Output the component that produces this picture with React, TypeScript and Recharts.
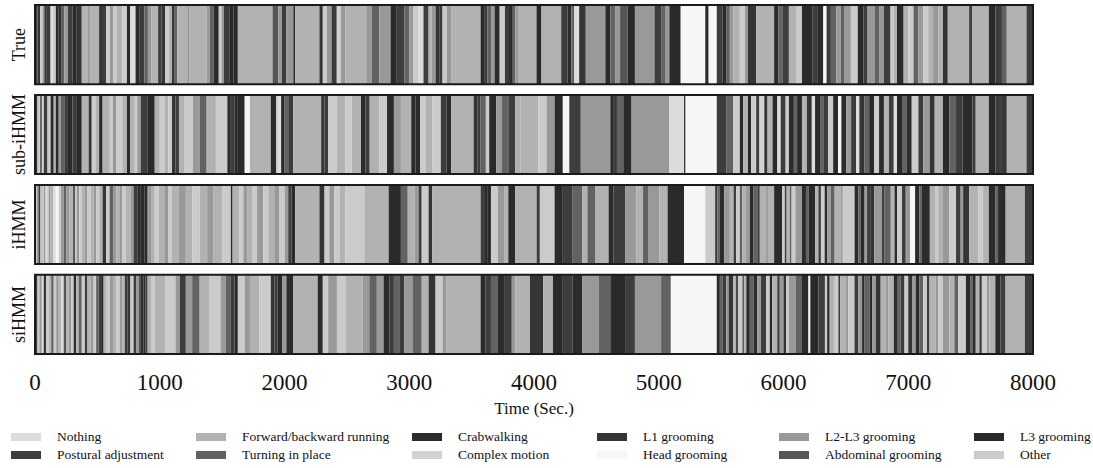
import { ComposedChart, XAxis, YAxis, ReferenceArea } from "recharts";

const STATE_LABELS = [
  "Nothing",
  "Forward/backward running",
  "Crabwalking",
  "L1 grooming",
  "L2-L3 grooming",
  "L3 grooming",
  "Postural adjustment",
  "Turning in place",
  "Complex motion",
  "Head grooming",
  "Abdominal grooming",
  "Other",
];

const STATE_COLORS = [
  "#dcdcdc", "#b2b2b2", "#2b2b2b", "#353535", "#999999", "#2a2a2a",
  "#3d3d3d", "#626262", "#d2d2d2", "#f6f6f6", "#565656", "#cbcbcb",
];

const ROW_LABELS = ["True", "sub-iHMM", "iHMM", "siHMM"];
const TIME_TICKS = [0, 1000, 2000, 3000, 4000, 5000, 6000, 7000, 8000];

// each entry: [segment end time (sec), state index]; a segment starts where the previous ended
const TRUE_SEGS: [number, number][] = [
  [20, 6], [42, 3], [60, 11], [75, 4], [95, 3], [125, 6], [145, 0], [167, 11],
  [190, 2], [208, 5], [235, 7], [264, 4], [300, 6], [330, 2], [375, 3], [420, 1],
  [440, 4], [514, 1], [545, 3], [570, 6], [600, 11], [625, 4], [653, 11], [700, 1],
  [737, 11], [764, 5], [806, 0], [840, 2], [876, 6], [905, 7], [931, 4], [987, 1],
  [1015, 6], [1042, 3], [1070, 11], [1098, 1], [1120, 3], [1140, 7], [1220, 1], [1235, 4],
  [1376, 1], [1400, 4], [1431, 7], [1473, 2], [1495, 11], [1515, 4], [1557, 6], [1590, 5],
  [1626, 2], [1904, 1], [1950, 10], [1980, 4], [2015, 6], [2071, 4], [2085, 2], [2280, 1],
  [2307, 3], [2340, 11], [2377, 4], [2419, 6], [2450, 8], [2488, 4], [2655, 1], [2700, 4],
  [2760, 7], [2850, 4], [2900, 2], [2961, 6], [3000, 7], [3030, 4], [3072, 11], [3114, 0],
  [3155, 6], [3180, 1], [3211, 4], [3240, 3], [3267, 6], [3300, 11], [3336, 4], [3572, 1],
  [3600, 5], [3628, 6], [3660, 7], [3684, 4], [3725, 2], [3767, 11], [3800, 6], [3830, 2],
  [3850, 7], [3878, 4], [4020, 1], [4060, 5], [4218, 1], [4270, 6], [4300, 2], [4323, 7],
  [4362, 0], [4415, 3], [4572, 4], [4612, 2], [4650, 7], [4690, 4], [4750, 10], [4809, 2],
  [4966, 4], [5019, 6], [5050, 7], [5085, 4], [5176, 5], [5373, 9], [5400, 2], [5465, 9],
  [5510, 6], [5544, 2], [5570, 7], [5597, 4], [5650, 1], [5690, 11], [5715, 4], [5781, 3],
  [5925, 1], [5960, 5], [5991, 7], [6043, 6], [6100, 1], [6148, 11], [6230, 2], [6270, 6],
  [6319, 2], [6345, 9], [6380, 6], [6424, 7], [6460, 4], [6490, 7], [6540, 4], [6595, 11],
  [6640, 5], [6674, 6], [6730, 4], [6770, 7], [6805, 4], [6858, 6], [6885, 11], [6910, 1],
  [6963, 2], [7000, 1], [7042, 11], [7080, 7], [7120, 4], [7160, 11], [7199, 1], [7240, 4],
  [7278, 1], [7317, 3], [7488, 1], [7514, 6], [7646, 1], [7700, 5], [7751, 6], [7790, 7],
  [7948, 1], [8000, 6],
];

const SUB_IHMM_SEGS: [number, number][] = [
  [20, 3], [42, 11], [55, 6], [70, 0], [97, 6], [110, 1], [125, 11], [150, 2],
  [167, 1], [190, 2], [208, 4], [235, 7], [264, 6], [300, 2], [330, 6], [375, 5],
  [430, 1], [455, 3], [485, 11], [514, 1], [542, 5], [600, 1], [625, 11], [653, 4],
  [700, 11], [737, 1], [764, 2], [800, 1], [820, 11], [848, 4], [900, 6], [960, 2],
  [1000, 1], [1042, 11], [1070, 1], [1098, 11], [1125, 3], [1154, 6], [1200, 1], [1265, 11],
  [1320, 4], [1376, 7], [1450, 1], [1542, 11], [1570, 2], [1598, 6], [1626, 5], [1681, 2],
  [1723, 9], [1890, 1], [1932, 2], [1950, 11], [1973, 0], [2001, 5], [2030, 7], [2070, 6],
  [2294, 1], [2320, 3], [2349, 6], [2420, 11], [2488, 1], [2540, 11], [2613, 1], [2650, 2],
  [2683, 6], [2760, 1], [2822, 11], [2877, 2], [2933, 4], [3016, 1], [3050, 5], [3086, 2],
  [3130, 11], [3183, 1], [3253, 11], [3300, 6], [3336, 2], [3516, 1], [3545, 3], [3572, 6],
  [3614, 7], [3641, 11], [3697, 2], [3740, 4], [3794, 7], [3850, 6], [3890, 1], [4034, 1],
  [4100, 11], [4165, 4], [4231, 5], [4283, 9], [4375, 6], [4612, 4], [4640, 2], [4665, 6],
  [4716, 7], [4782, 5], [5085, 4], [5203, 0], [5215, 2], [5465, 9], [5544, 6], [5597, 7],
  [5650, 11], [5676, 5], [5715, 1], [5741, 2], [5781, 11], [5807, 6], [5846, 8], [5872, 3],
  [5912, 1], [5951, 5], [5977, 0], [6017, 6], [6043, 11], [6083, 2], [6109, 7], [6148, 5],
  [6188, 1], [6227, 3], [6253, 0], [6293, 2], [6319, 7], [6358, 6], [6398, 11], [6437, 5],
  [6464, 9], [6503, 2], [6542, 4], [6582, 6], [6608, 0], [6647, 3], [6687, 7], [6726, 5],
  [6766, 11], [6805, 2], [6845, 1], [6884, 6], [6910, 0], [6950, 5], [6989, 7], [7028, 2],
  [7081, 11], [7120, 6], [7173, 4], [7212, 3], [7278, 1], [7330, 5], [7383, 7], [7435, 6],
  [7514, 2], [7541, 6], [7646, 1], [7698, 5], [7751, 6], [7790, 3], [7948, 1], [8000, 6],
];

const IHMM_SEGS: [number, number][] = [
  [15, 11], [28, 4], [42, 6], [55, 1], [70, 11], [85, 4], [97, 0], [110, 11],
  [125, 4], [145, 1], [167, 0], [190, 9], [208, 11], [230, 4], [250, 7], [278, 4],
  [306, 1], [320, 6], [334, 11], [355, 4], [375, 11], [400, 1], [420, 4], [445, 11],
  [470, 1], [490, 4], [515, 11], [542, 1], [570, 3], [598, 11], [625, 7], [653, 4],
  [681, 1], [700, 4], [730, 11], [765, 1], [790, 4], [820, 6], [848, 5], [876, 2],
  [903, 5], [930, 4], [960, 1], [990, 11], [1042, 1], [1070, 4], [1098, 11], [1150, 1],
  [1209, 4], [1260, 1], [1320, 11], [1380, 1], [1431, 4], [1500, 1], [1570, 11], [1584, 2],
  [1640, 1], [1670, 11], [1700, 4], [1740, 1], [1780, 11], [1830, 4], [1870, 11], [1918, 1],
  [1960, 4], [2001, 11], [2030, 4], [2057, 6], [2085, 2], [2280, 1], [2321, 3], [2360, 11],
  [2400, 4], [2440, 11], [2488, 1], [2640, 11], [2835, 1], [2933, 2], [2988, 7], [3044, 1],
  [3075, 4], [3100, 6], [3155, 11], [3183, 3], [3572, 1], [3600, 6], [3630, 2], [3655, 5],
  [3711, 11], [3760, 4], [3794, 1], [3850, 2], [4021, 1], [4047, 6], [4165, 11], [4231, 5],
  [4310, 6], [4388, 7], [4428, 1], [4493, 7], [4598, 1], [4638, 2], [4730, 6], [4822, 4],
  [4874, 1], [4914, 7], [5006, 4], [5071, 1], [5203, 5], [5373, 9], [5452, 11], [5470, 6],
  [5490, 7], [5525, 2], [5570, 4], [5600, 1], [5620, 6], [5650, 11], [5670, 7], [5700, 1],
  [5730, 4], [5760, 2], [5790, 7], [5810, 6], [5860, 1], [5875, 4], [5925, 1], [5990, 5],
  [6010, 11], [6025, 6], [6050, 1], [6065, 7], [6095, 11], [6148, 4], [6180, 2], [6200, 7],
  [6255, 5], [6280, 1], [6300, 6], [6330, 11], [6350, 2], [6380, 4], [6410, 7], [6460, 1],
  [6475, 4], [6570, 11], [6600, 2], [6620, 7], [6650, 5], [6670, 4], [6700, 6], [6728, 3],
  [6790, 4], [6810, 6], [6860, 7], [6890, 1], [6910, 2], [6950, 11], [6980, 6], [7015, 4],
  [7055, 9], [7090, 5], [7110, 7], [7173, 2], [7220, 1], [7240, 11], [7278, 1], [7330, 4],
  [7383, 11], [7420, 6], [7440, 4], [7488, 3], [7560, 1], [7600, 11], [7646, 1], [7700, 5],
  [7720, 7], [7780, 2], [7790, 4], [7935, 1], [8000, 6],
];

const SIHMM_SEGS: [number, number][] = [
  [20, 6], [35, 11], [55, 4], [70, 0], [90, 3], [110, 11], [130, 1], [150, 7],
  [170, 11], [190, 4], [208, 1], [230, 0], [250, 10], [270, 1], [290, 4], [310, 11],
  [330, 2], [350, 1], [375, 7], [400, 11], [420, 6], [445, 1], [470, 4], [490, 11],
  [510, 7], [530, 6], [550, 2], [575, 1], [600, 11], [625, 4], [653, 1], [680, 11],
  [700, 4], [720, 1], [740, 6], [765, 3], [790, 11], [810, 6], [830, 4], [850, 10],
  [870, 2], [885, 5], [903, 6], [930, 1], [960, 11], [1042, 1], [1126, 11], [1160, 4],
  [1209, 6], [1260, 4], [1320, 7], [1400, 1], [1487, 11], [1530, 4], [1570, 7], [1600, 6],
  [1626, 5], [1680, 11], [1723, 4], [1800, 1], [1890, 11], [1920, 3], [1945, 6], [1980, 2],
  [2015, 4], [2071, 2], [2266, 1], [2307, 5], [2350, 11], [2420, 4], [2488, 11], [2627, 1],
  [2680, 4], [2740, 7], [2794, 4], [2840, 2], [2877, 6], [2920, 7], [2961, 6], [3030, 4],
  [3100, 7], [3155, 1], [3211, 3], [3267, 11], [3295, 4], [3572, 1], [3610, 5], [3655, 6],
  [3711, 7], [3760, 2], [3822, 6], [3850, 4], [3968, 1], [4073, 3], [4152, 1], [4231, 5],
  [4310, 6], [4388, 2], [4520, 4], [4612, 7], [4730, 5], [4809, 6], [5019, 4], [5097, 7],
  [5465, 9], [5490, 2], [5510, 7], [5540, 6], [5560, 4], [5597, 3], [5620, 1], [5635, 6],
  [5670, 11], [5685, 7], [5702, 1], [5730, 5], [5760, 7], [5790, 2], [5820, 4], [5860, 6],
  [5890, 11], [5910, 2], [5950, 1], [5970, 6], [6000, 4], [6020, 3], [6043, 11], [6100, 4],
  [6148, 7], [6200, 2], [6215, 9], [6280, 5], [6332, 6], [6350, 11], [6370, 2], [6411, 1],
  [6440, 11], [6455, 6], [6500, 1], [6520, 4], [6569, 11], [6600, 6], [6630, 4], [6650, 2],
  [6690, 7], [6710, 5], [6740, 4], [6779, 3], [6820, 1], [6840, 4], [6884, 1], [6910, 2],
  [6940, 7], [6970, 6], [7000, 11], [7030, 3], [7060, 4], [7090, 5], [7120, 7], [7150, 11],
  [7170, 6], [7220, 1], [7240, 4], [7278, 11], [7330, 4], [7370, 1], [7400, 7], [7462, 11],
  [7500, 5], [7515, 7], [7541, 5], [7570, 1], [7590, 6], [7630, 11], [7650, 4], [7698, 1],
  [7740, 2], [7777, 6], [7790, 4], [7935, 1], [8000, 6],
];

const ROWS = [TRUE_SEGS, SUB_IHMM_SEGS, IHMM_SEGS, SIHMM_SEGS];

const FONT = "'Liberation Serif', 'DejaVu Serif', serif";
const BAND = 0.88; // fraction of a row slot filled by the strip
const Y_MAX = 3 + BAND;
const LEGEND_TEXT_X = [57, 242, 458, 643, 825, 1020];

function toSpans(segs: [number, number][]) {
  let start = 0;
  return segs.map(([end, state]) => {
    const span = { x1: start, x2: end, state };
    start = end;
    return span;
  });
}

function RowTick(props: any) {
  const { y, payload } = props;
  const label = ROW_LABELS[Math.round(payload.value - BAND / 2)];
  return (
    <text
      x={19}
      y={y}
      transform={`rotate(-90 19 ${y})`}
      textAnchor="middle"
      dominantBaseline="central"
      fontFamily={FONT}
      fontSize={18}
      fill="#111"
    >
      {label}
    </text>
  );
}

export default function App() {
  const rowTicks = ROW_LABELS.map((_, i) => i + BAND / 2);
  return (
    <div style={{ position: "absolute", left: 0, top: 0, width: 1093, height: 468, background: "#fff" }}>
      <ComposedChart
        width={1093}
        height={420}
        data={[{ t: 0, v: 0 }, { t: 8000, v: Y_MAX }]}
        margin={{ top: 5, right: 60, bottom: 0, left: 0 }}
      >
        <XAxis
          type="number"
          dataKey="t"
          domain={[0, 8000]}
          ticks={TIME_TICKS}
          axisLine={false}
          tickLine={false}
          tickMargin={14}
          height={66}
          tick={{ fontFamily: FONT, fontSize: 23, fill: "#111" }}
          label={{
            value: "Time (Sec.)",
            position: "insideBottom",
            offset: 6,
            style: { fontFamily: FONT, fontSize: 17, fill: "#111" },
          }}
        />
        <YAxis
          type="number"
          dataKey="v"
          domain={[0, Y_MAX]}
          reversed
          width={35}
          ticks={rowTicks}
          axisLine={false}
          tickLine={false}
          tick={<RowTick />}
        />
        {ROWS.map((segs, r) =>
          toSpans(segs).map((s, i) => (
            <ReferenceArea
              key={`${r}-${i}`}
              x1={s.x1}
              x2={s.x2}
              y1={r}
              y2={r + BAND}
              fill={STATE_COLORS[s.state]}
              fillOpacity={1}
              stroke="none"
              ifOverflow="visible"
            />
          ))
        )}
        {ROWS.map((_, r) => (
          <ReferenceArea
            key={`frame-${r}`}
            x1={0}
            x2={8000}
            y1={r}
            y2={r + BAND}
            fill="none"
            stroke="#1a1a1a"
            strokeWidth={2}
            ifOverflow="visible"
          />
        ))}
      </ComposedChart>
      {STATE_LABELS.map((label, i) => {
        const col = i % 6;
        const row = Math.floor(i / 6);
        return (
          <div
            key={label}
            style={{
              position: "absolute",
              left: LEGEND_TEXT_X[col] - 46,
              top: 429 + row * 18,
              display: "flex",
              alignItems: "center",
              fontFamily: FONT,
              fontSize: 13.5,
              color: "#111",
              whiteSpace: "nowrap",
            }}
          >
            <span
              style={{
                display: "inline-block",
                width: 30,
                height: 8,
                background: STATE_COLORS[i],
                marginRight: 16,
              }}
            />
            {label}
          </div>
        );
      })}
    </div>
  );
}
